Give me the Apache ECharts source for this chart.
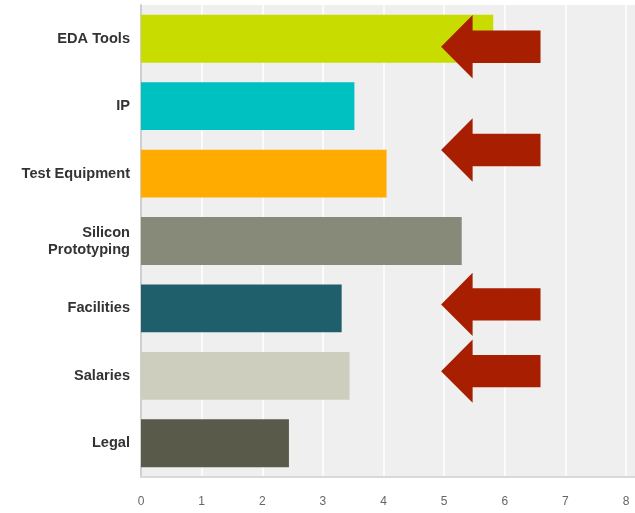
<!DOCTYPE html>
<html>
<head>
<meta charset="utf-8">
<script src="https://cdn.jsdelivr.net/npm/echarts@6/dist/echarts.min.js"></script>
<style>
  html, body { margin: 0; padding: 0; background: #fff; }
  #chart { width: 635px; height: 513px; }
</style>
</head>
<body>
<div id="chart"></div>
<script>
// Cost categories, top to bottom
const categories = ['EDA Tools', 'IP', 'Test Equipment', 'Silicon\nPrototyping', 'Facilities', 'Salaries', 'Legal'];
// Average rating per category
const values = [5.81, 3.52, 4.05, 5.29, 3.31, 3.44, 2.44];
// Bar fill per category
const barColors = ['#c8dc00', '#00c1c1', '#ffab00', '#878a79', '#1e5f6b', '#cdcebd', '#5a5a4a'];
// Axis tick labels
const xTicks = [0, 1, 2, 3, 4, 5, 6, 7, 8];

// Highlight arrows: category row and vertical shift in category units
const arrows = [
  { cat: 0, shift: 0.12 },
  { cat: 1, shift: 0.65 },
  { cat: 4, shift: -0.06 },
  { cat: 5, shift: -0.07 }
];
const arrowTip = 4.95, arrowBase = 5.47, arrowTail = 6.59;

const chart = echarts.init(document.getElementById('chart'));
const font = '"Liberation Sans", Arial, sans-serif';
const W = 635, H = 513;
const gridLeft = 141, gridRight = 9, gridTop = 5, gridBottom = 36;

chart.setOption({
  animation: false,
  grid: {
    left: gridLeft, right: gridRight, top: gridTop, bottom: gridBottom,
    show: true, backgroundColor: '#efefef', borderWidth: 0
  },
  xAxis: {
    type: 'value', min: 0, max: xTicks[xTicks.length - 1], interval: 1,
    axisLine: { show: true, lineStyle: { color: '#d9d9d9', width: 2 } },
    axisTick: { show: false },
    splitLine: { show: true, lineStyle: { color: '#ffffff', width: 1.5 } },
    axisLabel: { margin: 19, color: '#666', fontSize: 12, fontFamily: font }
  },
  yAxis: {
    type: 'category', inverse: true, data: categories,
    axisLine: { show: true, lineStyle: { color: '#cfcfcf', width: 2 } },
    axisTick: { show: false },
    axisLabel: {
      margin: 11, color: '#333', fontSize: 14.6, fontWeight: 'bold',
      fontFamily: font, lineHeight: 17, align: 'right'
    }
  },
  series: [{
    type: 'bar',
    data: values.map((v, i) => ({ value: v, itemStyle: { color: barColors[i] } })),
    barCategoryGap: '29%'
  }]
});

// Plot background continues past the last tick to the right edge
const extra = [
  {
    type: 'rect', z: -1, silent: true,
    shape: { x: W - gridRight - 1, y: gridTop, width: gridRight + 1, height: H - gridTop - gridBottom },
    style: { fill: '#efefef' }
  },
  {
    type: 'line', z: 5, silent: true,
    shape: { x1: W - gridRight - 1, y1: H - gridBottom, x2: W, y2: H - gridBottom },
    style: { stroke: '#d9d9d9', lineWidth: 2 }
  }
];

// Arrow annotations placed through the axes' own scales
const band = chart.convertToPixel({ yAxisIndex: 0 }, 1) - chart.convertToPixel({ yAxisIndex: 0 }, 0);
const headHalf = band * 0.47, shaftHalf = band * 0.24;
const xp = v => chart.convertToPixel({ xAxisIndex: 0 }, v);
const arrowShapes = arrows.map(a => {
  const cy = chart.convertToPixel({ yAxisIndex: 0 }, a.cat) + a.shift * band;
  const tip = xp(arrowTip), base = xp(arrowBase), tail = xp(arrowTail);
  return {
    type: 'polygon', z: 100,
    shape: { points: [
      [tip, cy], [base, cy - headHalf], [base, cy - shaftHalf], [tail, cy - shaftHalf],
      [tail, cy + shaftHalf], [base, cy + shaftHalf], [base, cy + headHalf]
    ] },
    style: { fill: '#a81e00' }
  };
});
chart.setOption({ graphic: extra.concat(arrowShapes) });
</script>
</body>
</html>
